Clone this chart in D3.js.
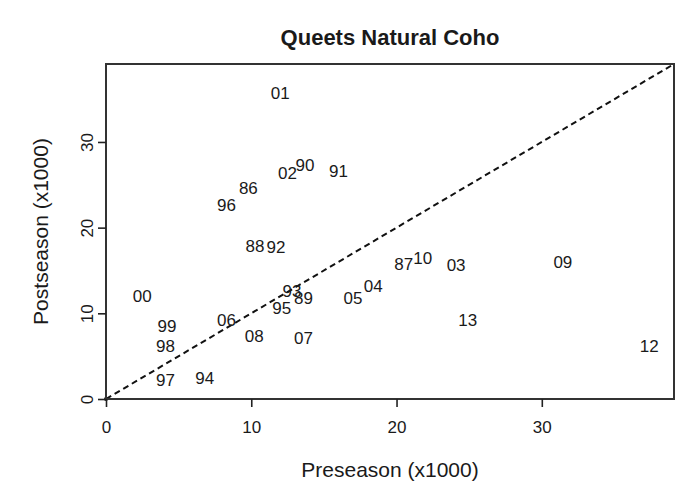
<!DOCTYPE html>
<html>
<head>
<meta charset="utf-8">
<script src="https://cdn.jsdelivr.net/npm/d3@7"></script>
<style>
  body { margin: 0; background: #fff; }
  svg text { font-family: "Liberation Sans", Arial, sans-serif; fill: #1a1a1a; }
</style>
</head>
<body>
<div id="chart"></div>
<script>
// return year labels (two digits), preseason forecast and postseason estimate, x1000 fish
var years = ["01", "90", "02", "91", "86", "96", "88", "92", "00", "99", "98", "97", "94",
             "06", "08", "95", "93", "89", "07", "05", "04", "87", "10", "03", "09", "13", "12"];
var preseason = [12.0, 13.7, 12.5, 16.0, 9.8, 8.3, 10.25, 11.7, 2.5, 4.2, 4.1, 4.1, 6.8,
                 8.3, 10.2, 12.1, 12.8, 13.6, 13.6, 17.0, 18.4, 20.5, 21.8, 24.1, 31.45, 24.9, 37.4];
var postseason = [35.7, 27.3, 26.4, 26.6, 24.6, 22.6, 17.9, 17.7, 12.0, 8.5, 6.2, 2.2, 2.5,
                  9.2, 7.4, 10.6, 12.6, 11.8, 7.1, 11.8, 13.2, 15.75, 16.5, 15.6, 16.0, 9.2, 6.2];
var xTicks = [0, 10, 20, 30];
var yTicks = [0, 10, 20, 30];
var axisMax = 39.1;

var W = 677, H = 491;
var margin = {top: 64, right: 3, bottom: 92, left: 106};
var width = W - margin.left - margin.right,
    height = H - margin.top - margin.bottom;

var svg = d3.select("#chart").append("svg")
    .attr("width", W)
    .attr("height", H);

var g = svg.append("g")
    .attr("transform", "translate(" + margin.left + "," + margin.top + ")");

var x = d3.scaleLinear().domain([0, axisMax]).range([0, width]);
var y = d3.scaleLinear().domain([0, axisMax]).range([height, 0]);

// 1:1 line
g.append("line")
    .attr("x1", x(0)).attr("y1", y(0))
    .attr("x2", x(axisMax)).attr("y2", y(axisMax))
    .attr("stroke", "#111")
    .attr("stroke-width", 2)
    .attr("stroke-dasharray", "6,4");

g.append("circle")
    .attr("cx", x(0)).attr("cy", y(0)).attr("r", 2)
    .attr("fill", "#111");

// year labels
g.selectAll("text.yr")
    .data(years)
    .enter().append("text")
    .attr("class", "yr")
    .attr("x", function(d, i) { return x(preseason[i]); })
    .attr("y", function(d, i) { return y(postseason[i]); })
    .attr("dy", "0.35em")
    .attr("text-anchor", "middle")
    .attr("font-size", "17px")
    .text(function(d) { return d; });

// box
g.append("rect")
    .attr("x", 0).attr("y", 0)
    .attr("width", width).attr("height", height)
    .attr("fill", "none")
    .attr("stroke", "#333")
    .attr("stroke-width", 2);

// axes
var xAxis = g.append("g")
    .attr("transform", "translate(0," + height + ")")
    .call(d3.axisBottom(x).tickValues(xTicks).tickSize(8).tickPadding(14));
var yAxis = g.append("g")
    .call(d3.axisLeft(y).tickValues(yTicks).tickSize(8).tickPadding(12));

[xAxis, yAxis].forEach(function(a) {
  a.select(".domain").remove();
  a.selectAll(".tick line").attr("stroke", "#222").attr("stroke-width", 1.6);
  a.selectAll(".tick text")
    .attr("font-size", "17px")
    .attr("fill", "#1a1a1a")
    .attr("font-family", "Liberation Sans, Arial, sans-serif");
});

// R-style rotated y tick labels
yAxis.selectAll(".tick text")
  .attr("x", null).attr("dy", null)
  .attr("text-anchor", "middle")
  .attr("transform", "translate(-13,0) rotate(-90)")
  .attr("y", 0);

// titles
svg.append("text")
    .attr("x", margin.left + width / 2)
    .attr("y", 45)
    .attr("text-anchor", "middle")
    .attr("font-size", "22px")
    .attr("font-weight", "bold")
    .text("Queets Natural Coho");

svg.append("text")
    .attr("x", margin.left + width / 2)
    .attr("y", 477)
    .attr("text-anchor", "middle")
    .attr("font-size", "21px")
    .text("Preseason (x1000)");

svg.append("text")
    .attr("transform", "translate(48," + (margin.top + height / 2) + ") rotate(-90)")
    .attr("text-anchor", "middle")
    .attr("font-size", "21px")
    .text("Postseason (x1000)");
</script>
</body>
</html>
